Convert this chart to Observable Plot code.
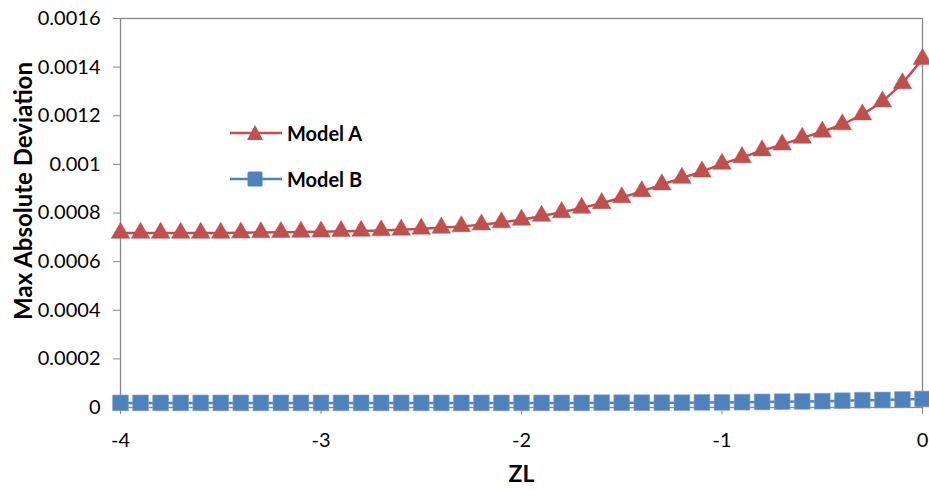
<!DOCTYPE html>
<html>
<head>
<meta charset="utf-8">
<script src="https://cdn.jsdelivr.net/npm/d3@7"></script>
<script src="https://cdn.jsdelivr.net/npm/@observablehq/plot@0.6"></script>
<style>
  html, body { margin: 0; padding: 0; background: #fff; }
  #wrap { position: relative; width: 929px; height: 491px; font-family: Lato, "Open Sans", sans-serif; }
  #legend { position: absolute; left: 228px; top: 119px; font-weight: bold; font-size: 20px; color: #000; }
  .item { display: flex; align-items: center; height: 28px; margin-bottom: 18px; }
  .item span { margin-left: 3px; }
</style>
</head>
<body>
<div id="wrap"></div>
<script>
// ZL values
const zl = [-4.0,-3.9,-3.8,-3.7,-3.6,-3.5,-3.4,-3.3,-3.2,-3.1,-3.0,-2.9,-2.8,-2.7,-2.6,-2.5,-2.4,-2.3,-2.2,-2.1,-2.0,
            -1.9,-1.8,-1.7,-1.6,-1.5,-1.4,-1.3,-1.2,-1.1,-1.0,-0.9,-0.8,-0.7,-0.6,-0.5,-0.4,-0.3,-0.2,-0.1,0.0];
const modelA = [0.000718,0.000718,0.000718,0.000718,0.000718,0.000718,0.000719,0.000720,0.000721,0.000722,0.000723,
                0.000725,0.000726,0.000728,0.000731,0.000735,0.000739,0.000745,0.000752,0.000761,0.000772,
                0.000788,0.000803,0.000821,0.000840,0.000864,0.000889,0.000917,0.000944,0.000970,0.001002,
                0.001029,0.001057,0.001081,0.001109,0.001134,0.001164,0.001205,0.001258,0.001333,0.001433];
const modelB = [0.000019,0.000019,0.000019,0.000019,0.000019,0.000019,0.000019,0.000019,0.000019,0.000019,0.000019,
                0.000019,0.000019,0.000019,0.000019,0.000019,0.000019,0.000019,0.000019,0.000019,0.000019,
                0.000019,0.000019,0.000019,0.000020,0.000020,0.000020,0.000020,0.000020,0.000021,0.000021,
                0.000022,0.000023,0.000024,0.000025,0.000026,0.000028,0.000030,0.000031,0.000033,0.000035];
const seriesNames = ["Model A", "Model B"];
const yTicks = [0, 0.0002, 0.0004, 0.0006, 0.0008, 0.001, 0.0012, 0.0014, 0.0016];
const xTicks = [-4, -3, -2, -1, 0];
const yTitle = "Max Absolute Deviation";
const xTitle = "ZL";

const colA = "#C0504D", colB = "#4F81BD", axisCol = "#868686";

const dataA = zl.map((x, i) => ({x, y: modelA[i]}));
const dataB = zl.map((x, i) => ({x, y: modelB[i]}));

const chart = Plot.plot({
  width: 929,
  height: 491,
  marginLeft: 120,
  marginRight: 7,
  marginTop: 18,
  marginBottom: 84,
  style: {fontFamily: "Lato, 'Open Sans', sans-serif", fontSize: "20px", color: "#000", background: "#fff"},
  x: {domain: [-4, 0]},
  y: {domain: [0, 0.0016]},
  marks: [
    Plot.frame({stroke: axisCol, strokeWidth: 1.3}),
    Plot.axisY({ticks: yTicks, tickFormat: d => String(+d.toFixed(4)), tickSize: 7, tickPadding: 13, stroke: axisCol, label: null, fill: "#000"}),
    Plot.axisX({ticks: xTicks, tickFormat: d => String(d), tickSize: 7, tickPadding: 18, stroke: axisCol, label: null, fill: "#000"}),
    Plot.line(dataB, {x: "x", y: "y", stroke: colB, strokeWidth: 2.5}),
    Plot.dot(dataB, {x: "x", y: "y", symbol: "square", r: 8.9, fill: colB, stroke: "#7fa3d1", strokeWidth: 0.6}),
    Plot.line(dataA, {x: "x", y: "y", stroke: colA, strokeWidth: 2.5}),
    Plot.dot(dataA, {x: "x", y: "y", symbol: "triangle", r: 6.9, fill: colA, stroke: colA, strokeWidth: 0.5}),
    Plot.text([yTitle], {frameAnchor: "left", textAnchor: "middle", dx: -96, dy: -22, rotate: -90, fontWeight: "bold", fontSize: 24}),
    Plot.text([xTitle], {frameAnchor: "bottom", dy: 74, fontWeight: "bold", fontSize: 23})
  ]
});

const wrap = document.getElementById("wrap");
wrap.appendChild(chart);

const legend = document.createElement("div");
legend.id = "legend";
const items = [
  {name: seriesNames[0], color: colA, sym: "tri"},
  {name: seriesNames[1], color: colB, sym: "sq"}
];
for (const it of items) {
  const row = document.createElement("div");
  row.className = "item";
  const shape = it.sym === "tri"
    ? `<path d="M27,6 L35,21 L19,21 Z" fill="${it.color}"/>`
    : `<rect x="19.5" y="6.5" width="15" height="15" rx="1.5" fill="${it.color}"/>`;
  row.innerHTML = `<svg width="56" height="28"><line x1="2" x2="54" y1="14" y2="14" stroke="${it.color}" stroke-width="2.5"/>${shape}</svg><span>${it.name}</span>`;
  legend.appendChild(row);
}
wrap.appendChild(legend);
</script>
</body>
</html>
